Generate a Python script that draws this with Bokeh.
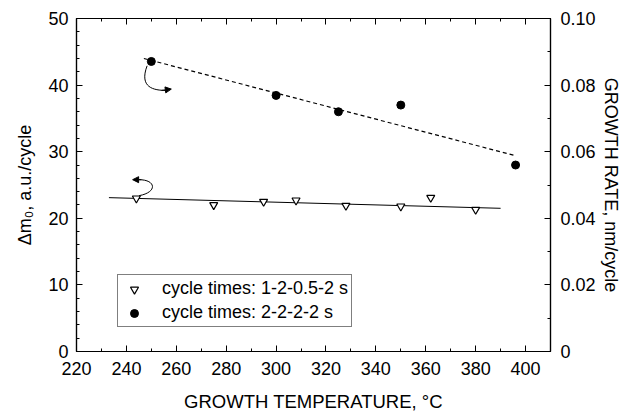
from bokeh.plotting import figure
from bokeh.models import (Range1d, LinearAxis, SingleIntervalTicker, Legend, LegendItem,
                          Arrow, NormalHead, PrintfTickFormatter, CustomJSTickFormatter)
from bokeh.embed import file_html
from bokeh.resources import INLINE

# Δm0 data (left axis), cycle times 1-2-0.5-2 s
tri_temp = [244, 275, 295, 308, 328, 350, 362, 380]
tri_dm = [23.0, 22.0, 22.5, 22.7, 21.9, 21.8, 23.1, 21.3]
tri_fit_x = [233, 390]
tri_fit_y = [23.1, 21.5]

# Growth rate data (right axis), cycle times 2-2-2-2 s
circ_temp = [250, 300, 325, 350, 396]
circ_rate = [0.0871, 0.0769, 0.0720, 0.0740, 0.0560]
circ_fit_x = [247, 396]
circ_fit_y = [0.0880, 0.0588]

FONT = "Liberation Sans"

p = figure(width=623, height=414, output_backend="svg", toolbar_location=None,
           x_range=Range1d(220, 410), y_range=Range1d(0, 50),
           min_border_left=76, min_border_right=72, min_border_top=18, min_border_bottom=63)
p.extra_y_ranges = {"rate": Range1d(0, 0.10)}
p.xgrid.visible = False
p.ygrid.visible = False
p.outline_line_color = "black"
p.outline_line_width = 1.2
p.background_fill_color = "white"
p.border_fill_color = "white"


def style(ax):
    ax.axis_line_color = "black"
    ax.axis_line_width = 1.2
    ax.major_tick_in = 6
    ax.major_tick_out = 0
    ax.minor_tick_in = 3
    ax.minor_tick_out = 0
    ax.major_tick_line_color = "black"
    ax.minor_tick_line_color = "black"
    ax.major_label_text_font = FONT
    ax.major_label_text_font_size = "18px"
    ax.major_label_text_color = "black"
    ax.axis_label_text_font = FONT
    ax.axis_label_text_font_size = "18px"
    ax.axis_label_text_font_style = "normal"
    ax.axis_label_text_color = "black"


xax = p.xaxis[0]
xax.ticker = SingleIntervalTicker(interval=20, num_minor_ticks=2)
style(xax)
xax.axis_label = "GROWTH TEMPERATURE, °C"
xax.axis_label_text_font_size = "18.5px"
xax.major_label_standoff = 10
xax.axis_label_standoff = 13

yax = p.yaxis[0]
yax.ticker = SingleIntervalTicker(interval=10, num_minor_ticks=5)
style(yax)
yax.axis_label = "Δm₀, a.u./cycle"
yax.major_label_standoff = 8
yax.axis_label_standoff = 10

top = LinearAxis(ticker=SingleIntervalTicker(interval=20, num_minor_ticks=2),
                 formatter=CustomJSTickFormatter(code="return ''"))
style(top)
p.add_layout(top, "above")

right = LinearAxis(y_range_name="rate", ticker=SingleIntervalTicker(interval=0.02, num_minor_ticks=2),
                   formatter=PrintfTickFormatter(format="%.2f"))
style(right)
right.major_label_overrides = {0: "0"}
right.axis_label = "GROWTH RATE, nm/cycle"
right.major_label_standoff = 10
right.axis_label_standoff = 2
p.add_layout(right, "right")

# fit lines
p.line(tri_fit_x, tri_fit_y, line_color="black", line_width=1)
p.line(circ_fit_x, circ_fit_y, line_color="black", line_width=1.2, line_dash="4 3",
       y_range_name="rate")

r_tri = p.scatter(tri_temp, tri_dm, marker="inverted_triangle", size=8,
                  fill_color="white", line_color="black", line_width=1.2)
r_circ = p.scatter(circ_temp, circ_rate, marker="circle", size=8,
                   fill_color="black", line_color="black", y_range_name="rate")

# curved arrows indicating axes
p.bezier(x0=[248.3], y0=[42.9], cx0=[245.0], cy0=[39.6], cx1=[251.0], cy1=[39.2], x1=[256.0], y1=[39.2],
         line_color="black", line_width=1)
p.add_layout(Arrow(x_start=254.0, y_start=39.2, x_end=258.0, y_end=39.4,
                   end=NormalHead(size=6, fill_color="black", line_color="black"),
                   line_color="black", line_width=1))
p.bezier(x0=[245.1], y0=[23.4], cx0=[252.5], cy0=[23.9], cx1=[252.0], cy1=[25.8], x1=[245.0], y1=[25.8],
         line_color="black", line_width=1)
p.add_layout(Arrow(x_start=246.0, y_start=25.8, x_end=242.5, y_end=25.8,
                   end=NormalHead(size=6, fill_color="black", line_color="black"),
                   line_color="black", line_width=1))

legend = Legend(items=[LegendItem(label="cycle times: 1-2-0.5-2 s", renderers=[r_tri]),
                       LegendItem(label="cycle times: 2-2-2-2 s", renderers=[r_circ])],
                location=(41, 24))
legend.border_line_color = "black"
legend.border_line_width = 1
legend.background_fill_alpha = 1
legend.label_text_font = FONT
legend.label_text_font_size = "18px"
legend.label_text_color = "black"
legend.padding = 3
legend.spacing = 3
legend.margin = 0
legend.glyph_width = 26
legend.glyph_height = 20
legend.label_height = 20
legend.label_standoff = 15
p.add_layout(legend, "center")

open("out.html", "w").write(file_html(p, INLINE))
